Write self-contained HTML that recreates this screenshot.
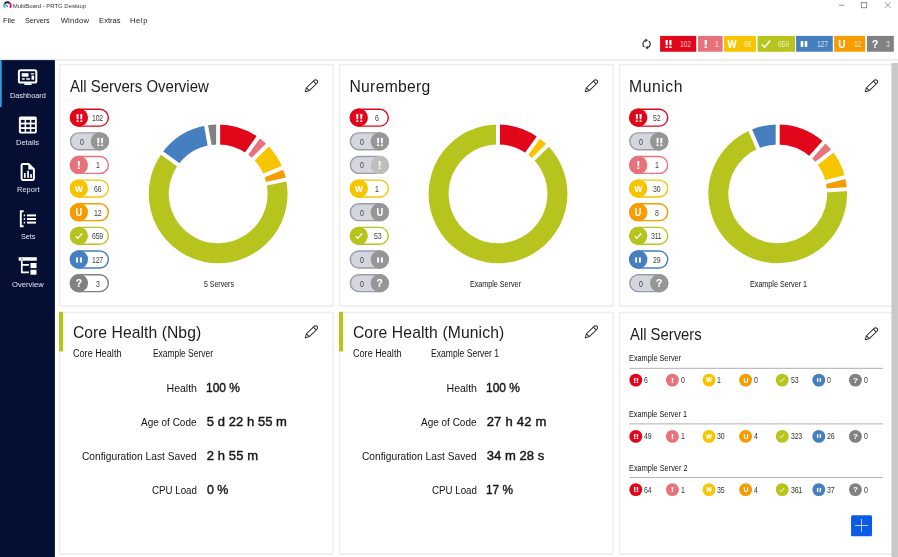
<!DOCTYPE html>
<html lang="en"><head><meta charset="utf-8"><title>MultiBoard - PRTG Desktop</title>
<style>
*{box-sizing:border-box;margin:0;padding:0}
html,body{width:898px;height:557px;overflow:hidden;background:#fff}
body{position:relative;font-family:"Liberation Sans",sans-serif;color:#1d1d1d}
.ab,.t,.g{position:absolute}
.t{white-space:pre;line-height:1}
.n{transform-origin:0 0}
.g{width:20px;line-height:1;text-align:center;font-weight:700;white-space:pre}
#app{position:absolute;left:0;top:0;width:898px;height:557px;will-change:transform}
</style></head><body><div id="app">
<svg class="ab" style="left:0;top:0" width="898" height="557" viewBox="0 0 898 557">
<rect x="59.75" y="64.75" width="273.40" height="241.20" fill="#fff" stroke="#eeedee" stroke-width="1.5"/>
<rect x="59.75" y="312.55" width="273.40" height="241.30" fill="#fff" stroke="#eeedee" stroke-width="1.5"/>
<rect x="339.75" y="64.75" width="273.40" height="241.20" fill="#fff" stroke="#eeedee" stroke-width="1.5"/>
<rect x="339.75" y="312.55" width="273.40" height="241.30" fill="#fff" stroke="#eeedee" stroke-width="1.5"/>
<rect x="619.75" y="64.75" width="273.40" height="241.20" fill="#fff" stroke="#eeedee" stroke-width="1.5"/>
<rect x="619.75" y="312.55" width="273.40" height="241.30" fill="#fff" stroke="#eeedee" stroke-width="1.5"/>
<rect x="660.1" y="35.9" width="36.10" height="15.85" fill="#e2061a"/>
<rect x="698.1" y="35.9" width="24.50" height="15.85" fill="#e8727c"/>
<rect x="724.1" y="35.9" width="31.80" height="15.85" fill="#f7c500"/>
<rect x="757.6" y="35.9" width="37.40" height="15.85" fill="#b7c41d"/>
<rect x="796.1" y="35.9" width="36.70" height="15.85" fill="#457fc0"/>
<rect x="834.2" y="35.9" width="31.00" height="15.85" fill="#f59c00"/>
<rect x="867" y="35.9" width="26.80" height="15.85" fill="#818181"/>
<rect x="0" y="59" width="898" height="1.6" fill="#e9e9e9"/>
<rect x="0" y="60.1" width="54.9" height="497" fill="#050f34"/>
<rect x="0" y="60.1" width="1.7" height="46.9" fill="#2f9fe8"/>
<rect x="70.45" y="109.20" width="37.90" height="16.90" rx="8.45" fill="#fff" stroke="#e2061a" stroke-width="1.4"/>
<circle cx="78.90" cy="117.65" r="9.15" fill="#e2061a"/>
<rect x="70.45" y="132.84" width="37.90" height="16.90" rx="8.45" fill="#d3d6dc" stroke="#999dab" stroke-width="1.4"/>
<circle cx="99.90" cy="141.29" r="9.15" fill="#969696"/>
<rect x="70.45" y="156.48" width="37.90" height="16.90" rx="8.45" fill="#fff" stroke="#e8727c" stroke-width="1.4"/>
<circle cx="78.90" cy="164.93" r="9.15" fill="#e8727c"/>
<rect x="70.45" y="180.12" width="37.90" height="16.90" rx="8.45" fill="#fff" stroke="#f7c500" stroke-width="1.4"/>
<circle cx="78.90" cy="188.57" r="9.15" fill="#f7c500"/>
<rect x="70.45" y="203.76" width="37.90" height="16.90" rx="8.45" fill="#fff" stroke="#f59c00" stroke-width="1.4"/>
<circle cx="78.90" cy="212.21" r="9.15" fill="#f59c00"/>
<rect x="70.45" y="227.40" width="37.90" height="16.90" rx="8.45" fill="#fff" stroke="#b7c41d" stroke-width="1.4"/>
<circle cx="78.90" cy="235.85" r="9.15" fill="#b7c41d"/>
<rect x="70.45" y="251.04" width="37.90" height="16.90" rx="8.45" fill="#fff" stroke="#457fc0" stroke-width="1.4"/>
<circle cx="78.90" cy="259.49" r="9.15" fill="#457fc0"/>
<rect x="70.45" y="274.68" width="37.90" height="16.90" rx="8.45" fill="#fff" stroke="#818181" stroke-width="1.4"/>
<circle cx="78.90" cy="283.13" r="9.15" fill="#818181"/>
<rect x="350.35" y="109.20" width="37.90" height="16.90" rx="8.45" fill="#fff" stroke="#e2061a" stroke-width="1.4"/>
<circle cx="358.80" cy="117.65" r="9.15" fill="#e2061a"/>
<rect x="350.35" y="132.84" width="37.90" height="16.90" rx="8.45" fill="#d3d6dc" stroke="#999dab" stroke-width="1.4"/>
<circle cx="379.80" cy="141.29" r="9.15" fill="#969696"/>
<rect x="350.35" y="156.48" width="37.90" height="16.90" rx="8.45" fill="#d3d6dc" stroke="#999dab" stroke-width="1.4"/>
<circle cx="379.80" cy="164.93" r="9.15" fill="#bebebe"/>
<rect x="350.35" y="180.12" width="37.90" height="16.90" rx="8.45" fill="#fff" stroke="#f7c500" stroke-width="1.4"/>
<circle cx="358.80" cy="188.57" r="9.15" fill="#f7c500"/>
<rect x="350.35" y="203.76" width="37.90" height="16.90" rx="8.45" fill="#d3d6dc" stroke="#999dab" stroke-width="1.4"/>
<circle cx="379.80" cy="212.21" r="9.15" fill="#969696"/>
<rect x="350.35" y="227.40" width="37.90" height="16.90" rx="8.45" fill="#fff" stroke="#b7c41d" stroke-width="1.4"/>
<circle cx="358.80" cy="235.85" r="9.15" fill="#b7c41d"/>
<rect x="350.35" y="251.04" width="37.90" height="16.90" rx="8.45" fill="#d3d6dc" stroke="#999dab" stroke-width="1.4"/>
<circle cx="379.80" cy="259.49" r="9.15" fill="#969696"/>
<rect x="350.35" y="274.68" width="37.90" height="16.90" rx="8.45" fill="#d3d6dc" stroke="#999dab" stroke-width="1.4"/>
<circle cx="379.80" cy="283.13" r="9.15" fill="#969696"/>
<rect x="629.80" y="109.20" width="37.90" height="16.90" rx="8.45" fill="#fff" stroke="#e2061a" stroke-width="1.4"/>
<circle cx="638.25" cy="117.65" r="9.15" fill="#e2061a"/>
<rect x="629.80" y="132.84" width="37.90" height="16.90" rx="8.45" fill="#d3d6dc" stroke="#999dab" stroke-width="1.4"/>
<circle cx="659.25" cy="141.29" r="9.15" fill="#969696"/>
<rect x="629.80" y="156.48" width="37.90" height="16.90" rx="8.45" fill="#fff" stroke="#e8727c" stroke-width="1.4"/>
<circle cx="638.25" cy="164.93" r="9.15" fill="#e8727c"/>
<rect x="629.80" y="180.12" width="37.90" height="16.90" rx="8.45" fill="#fff" stroke="#f7c500" stroke-width="1.4"/>
<circle cx="638.25" cy="188.57" r="9.15" fill="#f7c500"/>
<rect x="629.80" y="203.76" width="37.90" height="16.90" rx="8.45" fill="#fff" stroke="#f59c00" stroke-width="1.4"/>
<circle cx="638.25" cy="212.21" r="9.15" fill="#f59c00"/>
<rect x="629.80" y="227.40" width="37.90" height="16.90" rx="8.45" fill="#fff" stroke="#b7c41d" stroke-width="1.4"/>
<circle cx="638.25" cy="235.85" r="9.15" fill="#b7c41d"/>
<rect x="629.80" y="251.04" width="37.90" height="16.90" rx="8.45" fill="#fff" stroke="#457fc0" stroke-width="1.4"/>
<circle cx="638.25" cy="259.49" r="9.15" fill="#457fc0"/>
<rect x="629.80" y="274.68" width="37.90" height="16.90" rx="8.45" fill="#d3d6dc" stroke="#999dab" stroke-width="1.4"/>
<circle cx="659.25" cy="283.13" r="9.15" fill="#969696"/>
<rect x="59" y="311.8" width="4.15" height="39.7" fill="#b7c41d"/>
<rect x="339" y="311.8" width="4.15" height="39.7" fill="#b7c41d"/>
<rect x="629.3" y="367.85" width="253.8" height="0.9" fill="#a9a9a9"/>
<circle cx="635.80" cy="380.10" r="6.45" fill="#e2061a"/>
<circle cx="672.40" cy="380.10" r="6.45" fill="#e8727c"/>
<circle cx="709.00" cy="380.10" r="6.45" fill="#f7c500"/>
<circle cx="745.60" cy="380.10" r="6.45" fill="#f59c00"/>
<circle cx="782.20" cy="380.10" r="6.45" fill="#b7c41d"/>
<circle cx="818.80" cy="380.10" r="6.45" fill="#457fc0"/>
<circle cx="855.40" cy="380.10" r="6.45" fill="#818181"/>
<rect x="629.3" y="423.45" width="253.8" height="0.9" fill="#a9a9a9"/>
<circle cx="635.80" cy="436.40" r="6.45" fill="#e2061a"/>
<circle cx="672.40" cy="436.40" r="6.45" fill="#e8727c"/>
<circle cx="709.00" cy="436.40" r="6.45" fill="#f7c500"/>
<circle cx="745.60" cy="436.40" r="6.45" fill="#f59c00"/>
<circle cx="782.20" cy="436.40" r="6.45" fill="#b7c41d"/>
<circle cx="818.80" cy="436.40" r="6.45" fill="#457fc0"/>
<circle cx="855.40" cy="436.40" r="6.45" fill="#818181"/>
<rect x="629.3" y="477.15" width="253.8" height="0.9" fill="#a9a9a9"/>
<circle cx="635.80" cy="489.60" r="6.45" fill="#e2061a"/>
<circle cx="672.40" cy="489.60" r="6.45" fill="#e8727c"/>
<circle cx="709.00" cy="489.60" r="6.45" fill="#f7c500"/>
<circle cx="745.60" cy="489.60" r="6.45" fill="#f59c00"/>
<circle cx="782.20" cy="489.60" r="6.45" fill="#b7c41d"/>
<circle cx="818.80" cy="489.60" r="6.45" fill="#457fc0"/>
<circle cx="855.40" cy="489.60" r="6.45" fill="#818181"/>
<rect x="851.05" y="515.3" width="21" height="21" rx="1.6" fill="#0b5be6"/>
<rect x="891.4" y="63" width="6.6" height="494" fill="#c9c9c9"/>
</svg>
<svg class="ab" style="left:0;top:0" width="14" height="11" viewBox="0 0 14 11"><path d="M5.08,7.67 A3.25,3.25 0 0 1 4.74,3.78" fill="none" stroke="#2fb1ea" stroke-width="1.9"/><path d="M4.74,3.78 A3.25,3.25 0 0 1 9.50,2.94" fill="none" stroke="#141a47" stroke-width="1.9"/><path d="M9.50,2.94 A3.25,3.25 0 0 1 9.92,7.67" fill="none" stroke="#e8006f" stroke-width="1.9"/><path d="M5.7,4.9 L8.0,6.7" stroke="#2a2f5a" stroke-width="0.9"/></svg>
<span class="t " style="left:12.71px;top:3px;font-size:6px;letter-spacing:-0.034px;color:#3a3a3a">MultiBoard - PRTG Desktop</span>
<span class="t n " style="left:3.29px;top:17px;font-size:7.6px;transform:scaleX(0.9836);color:#1a1a1a">File</span>
<span class="t n " style="left:25.47px;top:17px;font-size:7.6px;transform:scaleX(0.9427);color:#1a1a1a">Servers</span>
<span class="t " style="left:60.67px;top:17px;font-size:7.6px;letter-spacing:0.277px;color:#1a1a1a">Window</span>
<span class="t " style="left:99.08px;top:17px;font-size:7.6px;letter-spacing:-0.008px;color:#1a1a1a">Extras</span>
<span class="t " style="left:129.88px;top:17px;font-size:7.6px;letter-spacing:0.637px;color:#1a1a1a">Help</span>
<svg class="ab" style="left:830px;top:0" width="68" height="12" viewBox="830 0 68 12" fill="none" stroke="#6a6a6a" stroke-width="0.7">
<path d="M838.9,5.3 H844.4"/><rect x="861.3" y="2.4" width="5.4" height="5.4"/><path d="M885,2.4 L890.4,7.8 M890.4,2.4 L885,7.8"/></svg>
<svg class="ab" style="left:638px;top:36px" width="18" height="16" viewBox="638 36 18 16"><path d="M644.48,47.03 A3.7,3.7 0 0 1 645.64,40.43 M648.72,40.97 A3.7,3.7 0 0 1 647.56,47.57" fill="none" stroke="#3a3a3a" stroke-width="1.25"/><path d="M648.09,40.05 L644.92,38.81 L645.38,42.13 Z M645.11,47.95 L648.28,49.19 L647.82,45.87 Z" fill="#3a3a3a"/></svg>
<span class="g" style="left:658.00px;top:36px;font-size:16.00px;color:#fff;letter-spacing:-1.50px;text-indent:-0.38px;transform:translateY(0.36px) scaleY(0.71)">!!</span>
<span class="t n" style="left:680.48px;top:39px;font-size:9.7px;letter-spacing:-0.3px;color:rgba(255,255,255,.74);transform:scaleX(0.71)">102</span>
<span class="g" style="left:695.80px;top:36px;font-size:17.00px;color:#fff;letter-spacing:0.00px;text-indent:0.00px;transform:translateY(-0.11px) scaleY(0.69)">!</span>
<span class="t n" style="left:715.41px;top:39px;font-size:9.7px;letter-spacing:-0.3px;color:rgba(255,255,255,.74);transform:scaleX(0.71)">1</span>
<span class="g" style="left:722.30px;top:39px;font-size:10.60px;color:#fff;-webkit-text-stroke:0.10px #fff;transform:scaleX(0.9)">W</span>
<span class="t n" style="left:744.26px;top:39px;font-size:9.7px;letter-spacing:-0.3px;color:rgba(255,255,255,.74);transform:scaleX(0.71)">66</span>
<svg class="ab" style="left:758.50px;top:36.80px" width="14" height="14" viewBox="-7 -7 14 14"><path d="M-4.22,0.37 L-1.49,3.22 L4.22,-3.60" fill="none" stroke="#fff" stroke-width="1.5"/></svg>
<span class="t n" style="left:778.26px;top:39px;font-size:9.7px;letter-spacing:-0.3px;color:rgba(255,255,255,.74);transform:scaleX(0.71)">659</span>
<svg class="ab" style="left:797.00px;top:36.80px" width="14" height="14" viewBox="-7 -7 14 14"><rect x="-3.30" y="-2.90" width="2.6" height="5.8" fill="#fff"/><rect x="0.70" y="-2.90" width="2.6" height="5.8" fill="#fff"/></svg>
<span class="t n" style="left:817.48px;top:39px;font-size:9.7px;letter-spacing:-0.3px;color:rgba(255,255,255,.74);transform:scaleX(0.71)">127</span>
<span class="g" style="left:832.00px;top:39px;font-size:11.00px;color:#fff;-webkit-text-stroke:0.10px #fff;transform:scaleX(0.92)">U</span>
<span class="t n" style="left:853.80px;top:39px;font-size:9.7px;letter-spacing:-0.3px;color:rgba(255,255,255,.74);transform:scaleX(0.71)">12</span>
<span class="g" style="left:864.50px;top:39px;font-size:11.50px;color:#fff;-webkit-text-stroke:0.10px #fff;transform:scaleX(0.88)">?</span>
<span class="t n" style="left:885.67px;top:39px;font-size:9.7px;letter-spacing:-0.3px;color:rgba(255,255,255,.74);transform:scaleX(0.71)">3</span>
<span class="t n " style="left:10.00px;top:92px;font-size:8.0px;transform:scaleX(0.9166);color:#e4e6f0">Dashboard</span>
<span class="t n " style="left:16.28px;top:139px;font-size:8.0px;transform:scaleX(0.9401);color:#e4e6f0">Details</span>
<span class="t n " style="left:16.59px;top:186px;font-size:8.0px;transform:scaleX(0.9357);color:#e4e6f0">Report</span>
<span class="t n " style="left:20.57px;top:233px;font-size:8.0px;transform:scaleX(0.8987);color:#e4e6f0">Sets</span>
<span class="t n " style="left:11.54px;top:281px;font-size:8.0px;transform:scaleX(0.9490);color:#e4e6f0">Overview</span>
<svg class="ab" style="left:0;top:60px" width="55" height="240" viewBox="0 60 55 240">
<rect x="18.9" y="70.2" width="17.4" height="12.3" rx="1.6" fill="none" stroke="#fff" stroke-width="2"/>
<rect x="24.3" y="83.2" width="7.2" height="1.8" fill="#fff"/>
<rect x="21.7" y="73.2" width="6.8" height="3.5" fill="#fff"/><rect x="30.7" y="73.2" width="3.4" height="1.2" fill="#fff"/>
<rect x="31.5" y="75.6" width="2.6" height="4.1" fill="#fff"/><rect x="22" y="78.2" width="2.7" height="1.5" fill="#fff"/><rect x="26.2" y="78.2" width="3.8" height="1.5" fill="#fff"/>
<rect x="18.9" y="116.5" width="17.9" height="17" rx="1.8" fill="#fff"/>
<g fill="#050f34"><rect x="20.9" y="119.9" width="3.7" height="2.7"/><rect x="20.9" y="124.45" width="3.7" height="2.7"/><rect x="20.9" y="129" width="3.7" height="2.7"/><rect x="26.15" y="119.9" width="3.7" height="2.7"/><rect x="26.15" y="124.45" width="3.7" height="2.7"/><rect x="26.15" y="129" width="3.7" height="2.7"/><rect x="31.3" y="119.9" width="3.7" height="2.7"/><rect x="31.3" y="124.45" width="3.7" height="2.7"/><rect x="31.3" y="129" width="3.7" height="2.7"/></g>
<path d="M23.0,163.9 H28.5 L33.9,169.3 V178.5 a1.4,1.4 0 0 1 -1.4,1.4 H23.0 a1.4,1.4 0 0 1 -1.4,-1.4 V165.3 a1.4,1.4 0 0 1 1.4,-1.4 Z" fill="none" stroke="#fff" stroke-width="2" stroke-linejoin="round"/>
<path d="M28.3,163.6 L34.2,169.5 H28.3 Z" fill="#fff"/>
<rect x="24" y="173" width="1.6" height="4.9" fill="#fff"/><rect x="27.2" y="170.7" width="1.7" height="7.2" fill="#fff"/><rect x="30.2" y="174.1" width="1.7" height="3.8" fill="#fff"/>
<path d="M23.6,211.2 H20.8 V226.3 H23.6" fill="none" stroke="#fff" stroke-width="1.9"/>
<rect x="23.7" y="214.6" width="1.5" height="1.6" fill="#fff"/><rect x="27" y="214.4" width="9" height="2" fill="#fff"/><rect x="23.7" y="218.2" width="1.5" height="1.6" fill="#fff"/><rect x="27" y="218" width="9" height="2" fill="#fff"/><rect x="23.7" y="221.79999999999998" width="1.5" height="1.6" fill="#fff"/><rect x="27" y="221.6" width="9" height="2" fill="#fff"/>
<rect x="18.7" y="257.2" width="18.1" height="3.5" fill="#fff"/><rect x="21.3" y="258.4" width="1.2" height="1" fill="#050f34"/>
<path d="M21.8,260.7 V272.3 H28.9 M21.8,264.8 H28.9" fill="none" stroke="#fff" stroke-width="1.7"/>
<rect x="30.5" y="263" width="6" height="5.1" fill="#fff"/><rect x="30.5" y="269.8" width="6" height="4.9" fill="#fff"/>
</svg>
<span class="t n " style="left:70.27px;top:79px;font-size:15.7px;transform:scaleX(0.9533)">All Servers Overview</span>
<span class="t " style="left:349.51px;top:79px;font-size:15.7px;letter-spacing:0.284px">Nuremberg</span>
<span class="t " style="left:629.01px;top:79px;font-size:15.7px;letter-spacing:0.559px">Munich</span>
<svg class="ab" style="left:303.1px;top:75.7px" width="20" height="20" viewBox="-2 -16 20 20"><g transform="rotate(-44)" fill="none" stroke="#202020" stroke-width="0.95" stroke-linejoin="round"><path d="M0.3,0 L4.0,-2.0 L14.7,-2.0 A2.0,2.0 0 0 1 14.7,2.0 L4.0,2.0 Z"/><path d="M4.0,-2.0 L4.0,2.0 M13.6,-2.0 L13.6,2.0"/></g></svg>
<svg class="ab" style="left:583.1px;top:75.7px" width="20" height="20" viewBox="-2 -16 20 20"><g transform="rotate(-44)" fill="none" stroke="#202020" stroke-width="0.95" stroke-linejoin="round"><path d="M0.3,0 L4.0,-2.0 L14.7,-2.0 A2.0,2.0 0 0 1 14.7,2.0 L4.0,2.0 Z"/><path d="M4.0,-2.0 L4.0,2.0 M13.6,-2.0 L13.6,2.0"/></g></svg>
<svg class="ab" style="left:863.1px;top:75.7px" width="20" height="20" viewBox="-2 -16 20 20"><g transform="rotate(-44)" fill="none" stroke="#202020" stroke-width="0.95" stroke-linejoin="round"><path d="M0.3,0 L4.0,-2.0 L14.7,-2.0 A2.0,2.0 0 0 1 14.7,2.0 L4.0,2.0 Z"/><path d="M4.0,-2.0 L4.0,2.0 M13.6,-2.0 L13.6,2.0"/></g></svg>
<span class="g" style="left:68.95px;top:111px;font-size:14.00px;color:#fff;letter-spacing:-0.85px;text-indent:0.13px;transform:translateY(0.19px) scaleY(0.79)">!!</span>
<span class="t n" style="left:91.85px;top:114px;font-size:9.2px;letter-spacing:-0.3px;color:#3c414c;transform:scaleX(0.76)">102</span>
<span class="g" style="left:89.65px;top:135px;font-size:14.00px;color:#fff;letter-spacing:-0.85px;text-indent:0.13px;transform:translateY(-0.17px) scaleY(0.79)">!!</span>
<span class="t n" style="left:79.81px;top:138px;font-size:9.2px;letter-spacing:-0.3px;color:#3c414c;transform:scaleX(0.76)">0</span>
<span class="g" style="left:68.95px;top:158px;font-size:14.00px;color:#fff;letter-spacing:0.00px;text-indent:0.00px;transform:translateY(0.47px) scaleY(0.79)">!</span>
<span class="t n" style="left:95.51px;top:161px;font-size:9.2px;letter-spacing:-0.3px;color:#3c414c;transform:scaleX(0.76)">1</span>
<span class="g" style="left:68.95px;top:185px;font-size:8.30px;color:#fff;-webkit-text-stroke:0.15px #fff">W</span>
<span class="t n" style="left:93.75px;top:185px;font-size:9.2px;letter-spacing:-0.3px;color:#3c414c;transform:scaleX(0.76)">66</span>
<span class="g" style="left:68.95px;top:208px;font-size:10.40px;color:#fff;-webkit-text-stroke:0.10px #fff;transform:scaleX(0.9)">U</span>
<span class="t n" style="left:93.68px;top:209px;font-size:9.2px;letter-spacing:-0.3px;color:#3c414c;transform:scaleX(0.76)">12</span>
<svg class="ab" style="left:71.95px;top:228.90px" width="14" height="14" viewBox="-7 -7 14 14"><path d="M-3.13,0.28 L-1.10,2.39 L3.13,-2.67" fill="none" stroke="#fff" stroke-width="1.3"/></svg>
<span class="t n" style="left:91.93px;top:232px;font-size:9.2px;letter-spacing:-0.3px;color:#3c414c;transform:scaleX(0.76)">659</span>
<svg class="ab" style="left:71.95px;top:252.54px" width="14" height="14" viewBox="-7 -7 14 14"><rect x="-2.85" y="-2.55" width="1.9" height="5.1" fill="#fff"/><rect x="0.95" y="-2.55" width="1.9" height="5.1" fill="#fff"/></svg>
<span class="t n" style="left:91.85px;top:256px;font-size:9.2px;letter-spacing:-0.3px;color:#3c414c;transform:scaleX(0.76)">127</span>
<span class="g" style="left:68.95px;top:279px;font-size:10.20px;color:#fff;-webkit-text-stroke:0.10px #fff">?</span>
<span class="t n" style="left:95.63px;top:280px;font-size:9.2px;letter-spacing:-0.3px;color:#3c414c;transform:scaleX(0.76)">3</span>
<span class="g" style="left:348.85px;top:111px;font-size:14.00px;color:#fff;letter-spacing:-0.85px;text-indent:0.13px;transform:translateY(0.19px) scaleY(0.79)">!!</span>
<span class="t n" style="left:375.48px;top:114px;font-size:9.2px;letter-spacing:-0.3px;color:#3c414c;transform:scaleX(0.76)">6</span>
<span class="g" style="left:369.55px;top:135px;font-size:14.00px;color:#fff;letter-spacing:-0.85px;text-indent:0.13px;transform:translateY(-0.17px) scaleY(0.79)">!!</span>
<span class="t n" style="left:359.71px;top:138px;font-size:9.2px;letter-spacing:-0.3px;color:#3c414c;transform:scaleX(0.76)">0</span>
<span class="g" style="left:369.55px;top:158px;font-size:14.00px;color:#f4f4f4;letter-spacing:0.00px;text-indent:0.00px;transform:translateY(0.47px) scaleY(0.79)">!</span>
<span class="t n" style="left:359.71px;top:161px;font-size:9.2px;letter-spacing:-0.3px;color:#3c414c;transform:scaleX(0.76)">0</span>
<span class="g" style="left:348.85px;top:185px;font-size:8.30px;color:#fff;-webkit-text-stroke:0.15px #fff">W</span>
<span class="t n" style="left:375.41px;top:185px;font-size:9.2px;letter-spacing:-0.3px;color:#3c414c;transform:scaleX(0.76)">1</span>
<span class="g" style="left:369.55px;top:208px;font-size:10.40px;color:#fff;-webkit-text-stroke:0.10px #fff;transform:scaleX(0.9)">U</span>
<span class="t n" style="left:359.71px;top:209px;font-size:9.2px;letter-spacing:-0.3px;color:#3c414c;transform:scaleX(0.76)">0</span>
<svg class="ab" style="left:351.85px;top:228.90px" width="14" height="14" viewBox="-7 -7 14 14"><path d="M-3.13,0.28 L-1.10,2.39 L3.13,-2.67" fill="none" stroke="#fff" stroke-width="1.3"/></svg>
<span class="t n" style="left:373.69px;top:232px;font-size:9.2px;letter-spacing:-0.3px;color:#3c414c;transform:scaleX(0.76)">53</span>
<svg class="ab" style="left:372.55px;top:252.54px" width="14" height="14" viewBox="-7 -7 14 14"><rect x="-2.85" y="-2.55" width="1.9" height="5.1" fill="#fff"/><rect x="0.95" y="-2.55" width="1.9" height="5.1" fill="#fff"/></svg>
<span class="t n" style="left:359.71px;top:256px;font-size:9.2px;letter-spacing:-0.3px;color:#3c414c;transform:scaleX(0.76)">0</span>
<span class="g" style="left:369.55px;top:279px;font-size:10.20px;color:#fff;-webkit-text-stroke:0.10px #fff">?</span>
<span class="t n" style="left:359.71px;top:280px;font-size:9.2px;letter-spacing:-0.3px;color:#3c414c;transform:scaleX(0.76)">0</span>
<span class="g" style="left:628.30px;top:111px;font-size:14.00px;color:#fff;letter-spacing:-0.85px;text-indent:0.13px;transform:translateY(0.19px) scaleY(0.79)">!!</span>
<span class="t n" style="left:653.16px;top:114px;font-size:9.2px;letter-spacing:-0.3px;color:#3c414c;transform:scaleX(0.76)">52</span>
<span class="g" style="left:649.00px;top:135px;font-size:14.00px;color:#fff;letter-spacing:-0.85px;text-indent:0.13px;transform:translateY(-0.17px) scaleY(0.79)">!!</span>
<span class="t n" style="left:639.16px;top:138px;font-size:9.2px;letter-spacing:-0.3px;color:#3c414c;transform:scaleX(0.76)">0</span>
<span class="g" style="left:628.30px;top:158px;font-size:14.00px;color:#fff;letter-spacing:0.00px;text-indent:0.00px;transform:translateY(0.47px) scaleY(0.79)">!</span>
<span class="t n" style="left:654.86px;top:161px;font-size:9.2px;letter-spacing:-0.3px;color:#3c414c;transform:scaleX(0.76)">1</span>
<span class="g" style="left:628.30px;top:185px;font-size:8.30px;color:#fff;-webkit-text-stroke:0.15px #fff">W</span>
<span class="t n" style="left:653.13px;top:185px;font-size:9.2px;letter-spacing:-0.3px;color:#3c414c;transform:scaleX(0.76)">30</span>
<span class="g" style="left:628.30px;top:208px;font-size:10.40px;color:#fff;-webkit-text-stroke:0.10px #fff;transform:scaleX(0.9)">U</span>
<span class="t n" style="left:654.96px;top:209px;font-size:9.2px;letter-spacing:-0.3px;color:#3c414c;transform:scaleX(0.76)">8</span>
<svg class="ab" style="left:631.30px;top:228.90px" width="14" height="14" viewBox="-7 -7 14 14"><path d="M-3.13,0.28 L-1.10,2.39 L3.13,-2.67" fill="none" stroke="#fff" stroke-width="1.3"/></svg>
<span class="t n" style="left:651.33px;top:232px;font-size:9.2px;letter-spacing:-0.3px;color:#3c414c;transform:scaleX(0.76)">311</span>
<svg class="ab" style="left:631.30px;top:252.54px" width="14" height="14" viewBox="-7 -7 14 14"><rect x="-2.85" y="-2.55" width="1.9" height="5.1" fill="#fff"/><rect x="0.95" y="-2.55" width="1.9" height="5.1" fill="#fff"/></svg>
<span class="t n" style="left:653.12px;top:256px;font-size:9.2px;letter-spacing:-0.3px;color:#3c414c;transform:scaleX(0.76)">29</span>
<span class="g" style="left:649.00px;top:279px;font-size:10.20px;color:#fff;-webkit-text-stroke:0.10px #fff">?</span>
<span class="t n" style="left:639.16px;top:280px;font-size:9.2px;letter-spacing:-0.3px;color:#3c414c;transform:scaleX(0.76)">0</span>
<svg class="ab" style="left:55px;top:110px" width="843" height="170" viewBox="55 110 843 170">
<path d="M218.15,124.45 A69.4,69.4 0 0 1 258.24,137.20 L246.68,153.52 A49.4,49.4 0 0 0 218.15,144.45 Z" fill="#e2061a"/>
<path d="M258.24,137.20 A69.4,69.4 0 0 1 267.47,145.02 L253.25,159.09 A49.4,49.4 0 0 0 246.68,153.52 Z" fill="#e8727c"/>
<path d="M267.47,145.02 A69.4,69.4 0 0 1 282.55,167.98 L263.99,175.43 A49.4,49.4 0 0 0 253.25,159.09 Z" fill="#f7c500"/>
<path d="M282.55,167.98 A69.4,69.4 0 0 1 286.06,179.56 L266.49,183.67 A49.4,49.4 0 0 0 263.99,175.43 Z" fill="#f59c00"/>
<path d="M286.06,179.56 A69.4,69.4 0 1 1 162.05,152.99 L178.22,164.77 A49.4,49.4 0 1 0 266.49,183.67 Z" fill="#b7c41d"/>
<path d="M162.05,152.99 A69.4,69.4 0 0 1 206.10,125.50 L209.57,145.20 A49.4,49.4 0 0 0 178.22,164.77 Z" fill="#457fc0"/>
<path d="M206.10,125.50 A69.4,69.4 0 0 1 218.15,124.45 L218.15,144.45 A49.4,49.4 0 0 0 209.57,145.20 Z" fill="#818181"/>
<line x1="218.15" y1="146.45" x2="218.15" y2="122.45" stroke="#fff" stroke-width="4.0"/>
<line x1="245.53" y1="155.16" x2="259.39" y2="135.57" stroke="#fff" stroke-width="4.0"/>
<line x1="251.83" y1="160.50" x2="268.89" y2="143.61" stroke="#fff" stroke-width="4.0"/>
<line x1="262.13" y1="176.18" x2="284.40" y2="167.23" stroke="#fff" stroke-width="4.0"/>
<line x1="264.53" y1="184.09" x2="288.02" y2="179.14" stroke="#fff" stroke-width="4.0"/>
<line x1="179.84" y1="165.94" x2="160.44" y2="151.81" stroke="#fff" stroke-width="4.0"/>
<line x1="209.92" y1="147.17" x2="205.75" y2="123.53" stroke="#fff" stroke-width="4.0"/>
<path d="M498.00,124.45 A69.4,69.4 0 0 1 538.39,137.42 L526.75,153.68 A49.4,49.4 0 0 0 498.00,144.45 Z" fill="#e2061a"/>
<path d="M538.39,137.42 A69.4,69.4 0 0 1 547.58,145.29 L533.29,159.28 A49.4,49.4 0 0 0 526.75,153.68 Z" fill="#f7c500"/>
<path d="M547.58,145.29 A69.4,69.4 0 1 1 498.00,124.45 L498.00,144.45 A49.4,49.4 0 1 0 533.29,159.28 Z" fill="#b7c41d"/>
<line x1="498.00" y1="146.45" x2="498.00" y2="122.45" stroke="#fff" stroke-width="4.0"/>
<line x1="525.59" y1="155.31" x2="539.56" y2="135.79" stroke="#fff" stroke-width="4.0"/>
<line x1="531.86" y1="160.68" x2="549.01" y2="143.89" stroke="#fff" stroke-width="4.0"/>
<path d="M777.70,124.45 A69.4,69.4 0 0 1 824.04,142.19 L810.69,157.08 A49.4,49.4 0 0 0 777.70,144.45 Z" fill="#e2061a"/>
<path d="M824.04,142.19 A69.4,69.4 0 0 1 832.31,151.02 L816.57,163.37 A49.4,49.4 0 0 0 810.69,157.08 Z" fill="#e8727c"/>
<path d="M832.31,151.02 A69.4,69.4 0 0 1 845.06,177.14 L825.65,181.95 A49.4,49.4 0 0 0 816.57,163.37 Z" fill="#f7c500"/>
<path d="M845.06,177.14 A69.4,69.4 0 0 1 846.94,189.09 L826.98,190.46 A49.4,49.4 0 0 0 825.65,181.95 Z" fill="#f59c00"/>
<path d="M846.94,189.09 A69.4,69.4 0 1 1 750.18,130.14 L758.11,148.50 A49.4,49.4 0 1 0 826.98,190.46 Z" fill="#b7c41d"/>
<path d="M750.18,130.14 A69.4,69.4 0 0 1 777.70,124.45 L777.70,144.45 A49.4,49.4 0 0 0 758.11,148.50 Z" fill="#457fc0"/>
<line x1="777.70" y1="146.45" x2="777.70" y2="122.45" stroke="#fff" stroke-width="4.0"/>
<line x1="809.35" y1="158.57" x2="825.38" y2="140.70" stroke="#fff" stroke-width="4.0"/>
<line x1="815.00" y1="164.60" x2="833.88" y2="149.79" stroke="#fff" stroke-width="4.0"/>
<line x1="823.71" y1="182.44" x2="847.00" y2="176.66" stroke="#fff" stroke-width="4.0"/>
<line x1="824.99" y1="190.60" x2="848.93" y2="188.95" stroke="#fff" stroke-width="4.0"/>
<line x1="758.90" y1="150.34" x2="749.38" y2="128.30" stroke="#fff" stroke-width="4.0"/>
</svg>
<span class="t n " style="left:203.72px;top:281px;font-size:8.2px;transform:scaleX(0.8530);color:#141414">5 Servers</span>
<span class="t n " style="left:469.51px;top:281px;font-size:8.2px;transform:scaleX(0.8744);color:#141414">Example Server</span>
<span class="t n " style="left:749.51px;top:281px;font-size:8.2px;transform:scaleX(0.8768);color:#141414">Example Server 1</span>
<span class="t " style="left:72.90px;top:325px;font-size:15.7px;letter-spacing:0.061px">Core Health (Nbg)</span>
<svg class="ab" style="left:303.1px;top:322.2px" width="20" height="20" viewBox="-2 -16 20 20"><g transform="rotate(-44)" fill="none" stroke="#202020" stroke-width="0.95" stroke-linejoin="round"><path d="M0.3,0 L4.0,-2.0 L14.7,-2.0 A2.0,2.0 0 0 1 14.7,2.0 L4.0,2.0 Z"/><path d="M4.0,-2.0 L4.0,2.0 M13.6,-2.0 L13.6,2.0"/></g></svg>
<span class="t n " style="left:73.24px;top:349px;font-size:10.0px;transform:scaleX(0.9080);color:#141414">Core Health</span>
<span class="t n " style="left:152.51px;top:349px;font-size:10.0px;transform:scaleX(0.8425);color:#141414">Example Server</span>
<span class="t " style="left:166.53px;top:383px;font-size:10.6px;letter-spacing:-0.037px;color:#141414">Health</span>
<span class="t n " style="left:206.39px;top:381px;font-size:13.0px;transform:scaleX(0.9235);color:#161616;-webkit-text-stroke:0.42px #161616">100 %</span>
<span class="t n " style="left:141.18px;top:417px;font-size:10.6px;transform:scaleX(0.9429);color:#141414">Age of Code</span>
<span class="t " style="left:206.78px;top:415px;font-size:13.0px;letter-spacing:0.057px;color:#161616;-webkit-text-stroke:0.42px #161616">5 d 22 h 55 m</span>
<span class="t n " style="left:82.28px;top:451px;font-size:10.6px;transform:scaleX(0.9634);color:#141414">Configuration Last Saved</span>
<span class="t " style="left:206.65px;top:449px;font-size:13.0px;letter-spacing:0.132px;color:#161616;-webkit-text-stroke:0.42px #161616">2 h 55 m</span>
<span class="t n " style="left:152.01px;top:485px;font-size:10.6px;transform:scaleX(0.9185);color:#141414">CPU Load</span>
<span class="t n " style="left:206.81px;top:483px;font-size:13.0px;transform:scaleX(0.9566);color:#161616;-webkit-text-stroke:0.42px #161616">0 %</span>
<span class="t " style="left:352.90px;top:325px;font-size:15.7px;letter-spacing:0.119px">Core Health (Munich)</span>
<svg class="ab" style="left:583.1px;top:322.2px" width="20" height="20" viewBox="-2 -16 20 20"><g transform="rotate(-44)" fill="none" stroke="#202020" stroke-width="0.95" stroke-linejoin="round"><path d="M0.3,0 L4.0,-2.0 L14.7,-2.0 A2.0,2.0 0 0 1 14.7,2.0 L4.0,2.0 Z"/><path d="M4.0,-2.0 L4.0,2.0 M13.6,-2.0 L13.6,2.0"/></g></svg>
<span class="t n " style="left:353.24px;top:349px;font-size:10.0px;transform:scaleX(0.9080);color:#141414">Core Health</span>
<span class="t n " style="left:431.00px;top:349px;font-size:10.0px;transform:scaleX(0.8571);color:#141414">Example Server 1</span>
<span class="t " style="left:446.53px;top:383px;font-size:10.6px;letter-spacing:-0.037px;color:#141414">Health</span>
<span class="t n " style="left:486.39px;top:381px;font-size:13.0px;transform:scaleX(0.9235);color:#161616;-webkit-text-stroke:0.42px #161616">100 %</span>
<span class="t n " style="left:421.18px;top:417px;font-size:10.6px;transform:scaleX(0.9429);color:#141414">Age of Code</span>
<span class="t " style="left:486.65px;top:415px;font-size:13.0px;letter-spacing:0.237px;color:#161616;-webkit-text-stroke:0.42px #161616">27 h 42 m</span>
<span class="t n " style="left:362.28px;top:451px;font-size:10.6px;transform:scaleX(0.9634);color:#141414">Configuration Last Saved</span>
<span class="t " style="left:486.80px;top:449px;font-size:13.0px;letter-spacing:0.035px;color:#161616;-webkit-text-stroke:0.42px #161616">34 m 28 s</span>
<span class="t n " style="left:432.01px;top:485px;font-size:10.6px;transform:scaleX(0.9185);color:#141414">CPU Load</span>
<span class="t n " style="left:486.40px;top:483px;font-size:13.0px;transform:scaleX(0.9121);color:#161616;-webkit-text-stroke:0.42px #161616">17 %</span>
<span class="t n " style="left:629.77px;top:327px;font-size:15.7px;transform:scaleX(0.9455)">All Servers</span>
<svg class="ab" style="left:863.1px;top:324.1px" width="20" height="20" viewBox="-2 -16 20 20"><g transform="rotate(-44)" fill="none" stroke="#202020" stroke-width="0.95" stroke-linejoin="round"><path d="M0.3,0 L4.0,-2.0 L14.7,-2.0 A2.0,2.0 0 0 1 14.7,2.0 L4.0,2.0 Z"/><path d="M4.0,-2.0 L4.0,2.0 M13.6,-2.0 L13.6,2.0"/></g></svg>
<span class="t n " style="left:628.80px;top:355px;font-size:8.2px;transform:scaleX(0.8935);color:#141414">Example Server</span>
<span class="g" style="left:625.80px;top:375px;font-size:10.40px;color:#fff;letter-spacing:-0.65px;text-indent:0.08px;transform:translateY(0.26px) scaleY(0.78)">!!</span>
<span class="t n" style="left:644.14px;top:376px;font-size:9.2px;letter-spacing:-0.3px;color:#333;transform:scaleX(0.76)">6</span>
<span class="g" style="left:662.40px;top:375px;font-size:10.40px;color:#fff;letter-spacing:0.00px;text-indent:0.00px;transform:translateY(0.26px) scaleY(0.78)">!</span>
<span class="t n" style="left:680.83px;top:376px;font-size:9.2px;letter-spacing:-0.3px;color:#333;transform:scaleX(0.76)">0</span>
<span class="g" style="left:699.00px;top:377px;font-size:6.30px;color:#fff;-webkit-text-stroke:0.10px #fff">W</span>
<span class="t n" style="left:717.17px;top:376px;font-size:9.2px;letter-spacing:-0.3px;color:#333;transform:scaleX(0.76)">1</span>
<span class="g" style="left:735.60px;top:377px;font-size:7.20px;color:#fff;-webkit-text-stroke:0.10px #fff;transform:scaleX(0.95)">U</span>
<span class="t n" style="left:754.03px;top:376px;font-size:9.2px;letter-spacing:-0.3px;color:#333;transform:scaleX(0.76)">0</span>
<svg class="ab" style="left:775.20px;top:373.10px" width="14" height="14" viewBox="-7 -7 14 14"><path d="M-2.24,0.20 L-0.79,1.72 L2.24,-1.91" fill="none" stroke="#fff" stroke-width="0.9"/></svg>
<span class="t n" style="left:790.62px;top:376px;font-size:9.2px;letter-spacing:-0.3px;color:#333;transform:scaleX(0.76)">53</span>
<svg class="ab" style="left:811.80px;top:373.10px" width="14" height="14" viewBox="-7 -7 14 14"><rect x="-2.05" y="-1.90" width="1.4" height="3.8" fill="#fff"/><rect x="0.65" y="-1.90" width="1.4" height="3.8" fill="#fff"/></svg>
<span class="t n" style="left:827.23px;top:376px;font-size:9.2px;letter-spacing:-0.3px;color:#333;transform:scaleX(0.76)">0</span>
<span class="g" style="left:845.40px;top:377px;font-size:7.40px;color:#fff;-webkit-text-stroke:0.10px #fff">?</span>
<span class="t n" style="left:863.83px;top:376px;font-size:9.2px;letter-spacing:-0.3px;color:#333;transform:scaleX(0.76)">0</span>
<span class="t n " style="left:628.80px;top:411px;font-size:8.2px;transform:scaleX(0.8924);color:#141414">Example Server 1</span>
<span class="g" style="left:625.80px;top:432px;font-size:10.40px;color:#fff;letter-spacing:-0.65px;text-indent:0.08px;transform:translateY(-0.44px) scaleY(0.78)">!!</span>
<span class="t n" style="left:644.34px;top:432px;font-size:9.2px;letter-spacing:-0.3px;color:#333;transform:scaleX(0.76)">49</span>
<span class="g" style="left:662.40px;top:432px;font-size:10.40px;color:#fff;letter-spacing:0.00px;text-indent:0.00px;transform:translateY(-0.44px) scaleY(0.78)">!</span>
<span class="t n" style="left:680.57px;top:432px;font-size:9.2px;letter-spacing:-0.3px;color:#333;transform:scaleX(0.76)">1</span>
<span class="g" style="left:699.00px;top:434px;font-size:6.30px;color:#fff;-webkit-text-stroke:0.10px #fff">W</span>
<span class="t n" style="left:717.43px;top:432px;font-size:9.2px;letter-spacing:-0.3px;color:#333;transform:scaleX(0.76)">30</span>
<span class="g" style="left:735.60px;top:433px;font-size:7.20px;color:#fff;-webkit-text-stroke:0.10px #fff;transform:scaleX(0.95)">U</span>
<span class="t n" style="left:754.14px;top:432px;font-size:9.2px;letter-spacing:-0.3px;color:#333;transform:scaleX(0.76)">4</span>
<svg class="ab" style="left:775.20px;top:429.40px" width="14" height="14" viewBox="-7 -7 14 14"><path d="M-2.24,0.20 L-0.79,1.72 L2.24,-1.91" fill="none" stroke="#fff" stroke-width="0.9"/></svg>
<span class="t n" style="left:790.63px;top:432px;font-size:9.2px;letter-spacing:-0.3px;color:#333;transform:scaleX(0.76)">323</span>
<svg class="ab" style="left:811.80px;top:429.40px" width="14" height="14" viewBox="-7 -7 14 14"><rect x="-2.05" y="-1.90" width="1.4" height="3.8" fill="#fff"/><rect x="0.65" y="-1.90" width="1.4" height="3.8" fill="#fff"/></svg>
<span class="t n" style="left:827.15px;top:432px;font-size:9.2px;letter-spacing:-0.3px;color:#333;transform:scaleX(0.76)">26</span>
<span class="g" style="left:845.40px;top:433px;font-size:7.40px;color:#fff;-webkit-text-stroke:0.10px #fff">?</span>
<span class="t n" style="left:863.83px;top:432px;font-size:9.2px;letter-spacing:-0.3px;color:#333;transform:scaleX(0.76)">0</span>
<span class="t n " style="left:628.80px;top:465px;font-size:8.2px;transform:scaleX(0.8988);color:#141414">Example Server 2</span>
<span class="g" style="left:625.80px;top:485px;font-size:10.40px;color:#fff;letter-spacing:-0.65px;text-indent:0.08px;transform:translateY(-0.24px) scaleY(0.78)">!!</span>
<span class="t n" style="left:644.14px;top:486px;font-size:9.2px;letter-spacing:-0.3px;color:#333;transform:scaleX(0.76)">64</span>
<span class="g" style="left:662.40px;top:485px;font-size:10.40px;color:#fff;letter-spacing:0.00px;text-indent:0.00px;transform:translateY(-0.24px) scaleY(0.78)">!</span>
<span class="t n" style="left:680.57px;top:486px;font-size:9.2px;letter-spacing:-0.3px;color:#333;transform:scaleX(0.76)">1</span>
<span class="g" style="left:699.00px;top:487px;font-size:6.30px;color:#fff;-webkit-text-stroke:0.10px #fff">W</span>
<span class="t n" style="left:717.43px;top:486px;font-size:9.2px;letter-spacing:-0.3px;color:#333;transform:scaleX(0.76)">35</span>
<span class="g" style="left:735.60px;top:486px;font-size:7.20px;color:#fff;-webkit-text-stroke:0.10px #fff;transform:scaleX(0.95)">U</span>
<span class="t n" style="left:754.14px;top:486px;font-size:9.2px;letter-spacing:-0.3px;color:#333;transform:scaleX(0.76)">4</span>
<svg class="ab" style="left:775.20px;top:482.60px" width="14" height="14" viewBox="-7 -7 14 14"><path d="M-2.24,0.20 L-0.79,1.72 L2.24,-1.91" fill="none" stroke="#fff" stroke-width="0.9"/></svg>
<span class="t n" style="left:790.63px;top:486px;font-size:9.2px;letter-spacing:-0.3px;color:#333;transform:scaleX(0.76)">361</span>
<svg class="ab" style="left:811.80px;top:482.60px" width="14" height="14" viewBox="-7 -7 14 14"><rect x="-2.05" y="-1.90" width="1.4" height="3.8" fill="#fff"/><rect x="0.65" y="-1.90" width="1.4" height="3.8" fill="#fff"/></svg>
<span class="t n" style="left:827.23px;top:486px;font-size:9.2px;letter-spacing:-0.3px;color:#333;transform:scaleX(0.76)">37</span>
<span class="g" style="left:845.40px;top:486px;font-size:7.40px;color:#fff;-webkit-text-stroke:0.10px #fff">?</span>
<span class="t n" style="left:863.83px;top:486px;font-size:9.2px;letter-spacing:-0.3px;color:#333;transform:scaleX(0.76)">0</span>

<svg class="ab" style="left:851px;top:515.3px" width="21" height="21" viewBox="0 0 21 21"><path d="M10.5,4 V17 M4,10.5 H17" stroke="#cfe0ff" stroke-width="0.9"/></svg>
</div></body></html>
